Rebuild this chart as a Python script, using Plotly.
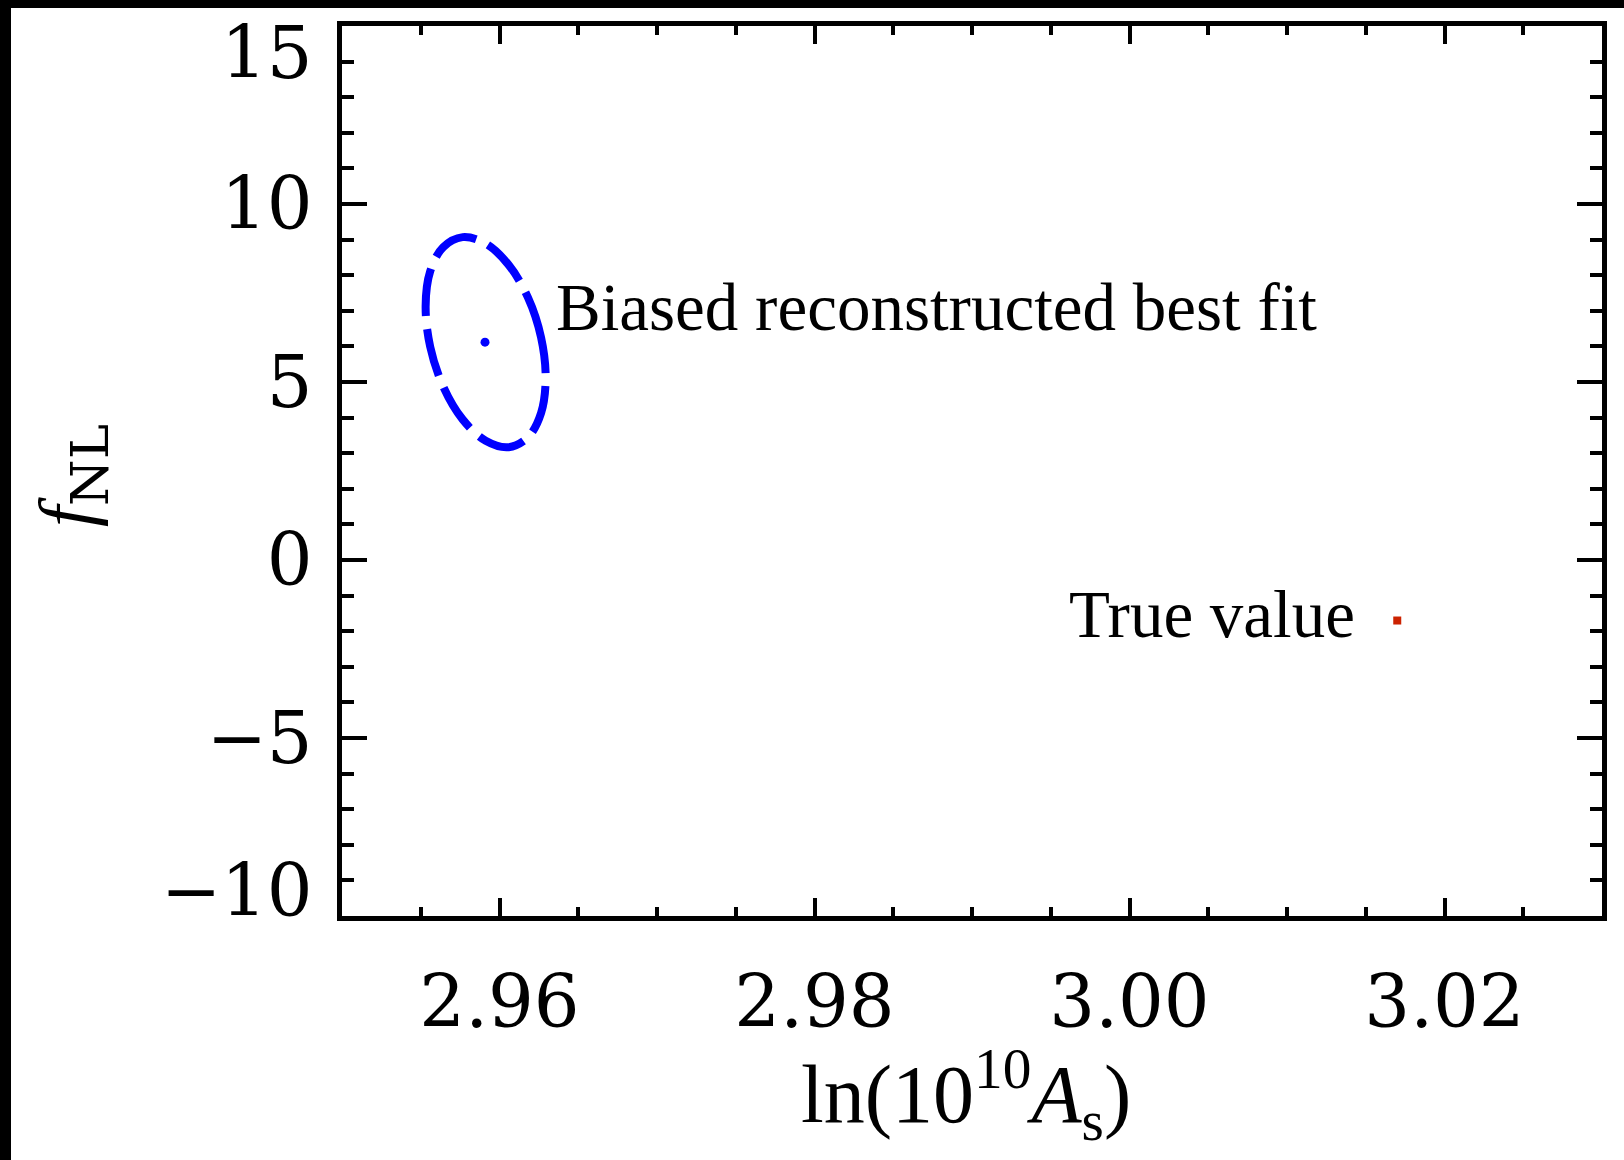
import plotly.graph_objects as go

# ---- data ----
x_tick_vals = [2.96, 2.98, 3.00, 3.02]
x_tick_text = ["2.96", "2.98", "3.00", "3.02"]
y_tick_vals = [-10, -5, 0, 5, 10, 15]
y_tick_text = ["\u221210", "\u22125", "0", "5", "10", "15"]
# label anchor positions (end labels nudged inside the frame, as in the reference)
y_label_pos = [-9.28, -5, 0, 5, 10, 14.26]

# 1-sigma contour of the biased reconstructed fit
ellipse_x = [2.96293, 2.96264, 2.96181, 2.96058, 2.95912, 2.95766, 2.95643, 2.95560,
             2.95531, 2.95560, 2.95643, 2.95766, 2.95912, 2.96058, 2.96181, 2.96264, 2.96293]
ellipse_y = [5.11, 6.25, 7.37, 8.29, 8.89, 9.07, 8.79, 8.11,
             7.13, 5.99, 4.87, 3.95, 3.35, 3.17, 3.45, 4.13, 5.11]
best_fit_x = [2.95908]
best_fit_y = [6.12]
true_x = [3.017]
true_y = [-1.70]

x_range = [2.95, 3.03]
y_range = [-10, 15]

W, H = 1624, 1160
ML, MR, MT, MB = 342, 22, 26, 244
PW, PH = W - ML - MR, H - MT - MB

def px_x(p):
    return (p - ML) / PW

def px_y(p):
    return (H - MB - p) / PH

fig = go.Figure()
fig.add_trace(go.Scatter(
    x=ellipse_x, y=ellipse_y, mode="lines",
    line=dict(color="#0000ff", width=8, dash="48px,13px", shape="spline", smoothing=1.0),
    showlegend=False, hoverinfo="skip"))
fig.add_trace(go.Scatter(
    x=best_fit_x, y=best_fit_y, mode="markers",
    marker=dict(color="#0000ff", size=9, symbol="circle"),
    showlegend=False, hoverinfo="skip"))
fig.add_trace(go.Scatter(
    x=true_x, y=true_y, mode="markers",
    marker=dict(color="#cc2200", size=8, symbol="square"),
    showlegend=False, hoverinfo="skip"))
# helper traces so the mirrored tick axes are drawn
fig.add_trace(go.Scatter(x=[None], y=[None], xaxis="x2", yaxis="y2",
                         showlegend=False, hoverinfo="skip"))
fig.add_trace(go.Scatter(x=[None], y=[None], xaxis="x", yaxis="y3",
                         showlegend=False, hoverinfo="skip"))

tick_font = dict(family="DejaVu Serif", size=72, color="black")
line_kw = dict(showline=True, linewidth=5, linecolor="black", showgrid=False, zeroline=False)

xminor = dict(ticks="inside", ticklen=9, tickwidth=4, tickcolor="black",
              tickmode="linear", tick0=2.95, dtick=0.005, showgrid=False)
yminor = dict(ticks="inside", ticklen=12, tickwidth=4, tickcolor="black",
              tickmode="linear", tick0=0, dtick=1, showgrid=False)

fig.update_layout(
    width=W, height=H,
    margin=dict(l=ML, r=MR, t=MT, b=MB),
    paper_bgcolor="white", plot_bgcolor="white",
    showlegend=False,
    xaxis=dict(range=x_range, tickmode="array", tickvals=x_tick_vals, ticktext=x_tick_text,
               ticks="inside", ticklen=18, tickwidth=4, tickcolor="black",
               minor=xminor, tickfont=tick_font, ticklabelstandoff=20,
               **line_kw),
    xaxis2=dict(range=x_range, overlaying="x", side="top", anchor="y",
                tickmode="array", tickvals=x_tick_vals,
                ticks="inside", ticklen=18, tickwidth=4, tickcolor="black",
                minor=xminor, showticklabels=False, **line_kw),
    yaxis=dict(range=y_range, tickmode="array", tickvals=y_label_pos, ticktext=y_tick_text,
               ticks="", tickfont=tick_font, ticklabelstandoff=10, **line_kw),
    yaxis2=dict(range=y_range, overlaying="y", side="right", anchor="x",
                tickmode="array", tickvals=y_tick_vals,
                ticks="inside", ticklen=25, tickwidth=4, tickcolor="black",
                minor=yminor, showticklabels=False, **line_kw),
    yaxis3=dict(range=y_range, overlaying="y", side="left", anchor="x",
                tickmode="array", tickvals=y_tick_vals,
                ticks="inside", ticklen=25, tickwidth=4, tickcolor="black",
                minor=yminor, showticklabels=False,
                showline=False, showgrid=False, zeroline=False),
)

ann_font = dict(family="Liberation Serif", size=67, color="black")
fig.add_annotation(x=2.96346, y=7.1, xref="x", yref="y", text="Biased reconstructed best fit",
                   showarrow=False, xanchor="left", yanchor="middle", font=ann_font)
fig.add_annotation(x=3.01444, y=-1.52, xref="x", yref="y", text="True value",
                   showarrow=False, xanchor="right", yanchor="middle", font=ann_font)
# axis titles
fig.add_annotation(x=px_x(966), y=px_y(1094), xref="paper", yref="paper",
                   text="ln(10<sup>10</sup><i>A</i><sub>s</sub>)",
                   showarrow=False, xanchor="center", yanchor="middle",
                   font=dict(family="Liberation Serif", size=82, color="black"))
fig.add_annotation(x=px_x(72), y=px_y(476), xref="paper", yref="paper",
                   text="<i>f</i><sub><span style=\"font-family:'DejaVu Serif'\">NL</span></sub>",
                   textangle=-90, showarrow=False, xanchor="center", yanchor="middle",
                   font=dict(family="Liberation Serif", size=76, color="black"))

# black frame strips at the top and left edges of the picture
fig.add_shape(type="rect", xref="paper", yref="paper",
              x0=px_x(0), x1=px_x(11), y0=px_y(H), y1=px_y(0),
              fillcolor="black", line=dict(width=0), layer="above")
fig.add_shape(type="rect", xref="paper", yref="paper",
              x0=px_x(0), x1=px_x(W), y0=px_y(8), y1=px_y(0),
              fillcolor="black", line=dict(width=0), layer="above")

fig.write_html("out.html")
